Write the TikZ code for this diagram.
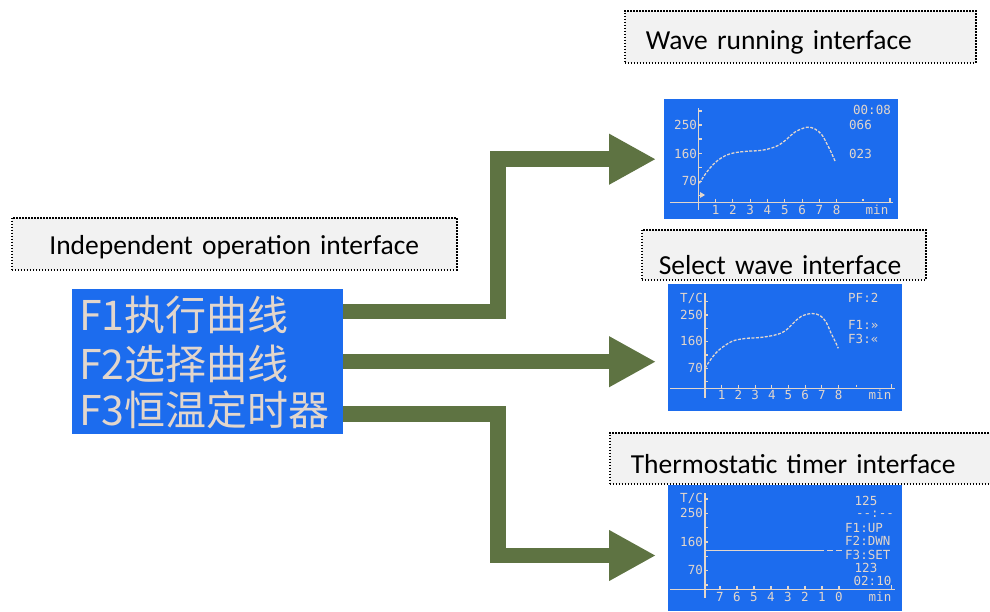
\documentclass[tikz,border=0pt]{standalone}
\usepackage{fontspec}
\usepackage{xcolor}
\usepackage{tikz}
\usetikzlibrary{arrows.meta, positioning}
\newfontfamily\calibfont{Carlito}
\newfontfamily\lcdfont{DejaVu Sans Mono}
\newfontfamily\cjk{Noto Sans CJK SC}
\definecolor{lcdblue}{RGB}{28,108,238}
\definecolor{lcdink}{RGB}{226,214,204}
\definecolor{flowgreen}{RGB}{94,115,66}
\definecolor{tagfill}{RGB}{242,242,242}

\begin{document}
\begin{tikzpicture}[x=1pt, y=-1pt,
	tag/.style={draw=black, line width=1.5pt, dash pattern=on 1.5pt off 1.5pt, fill=tagfill, anchor=north west, inner xsep=21pt, inner ysep=0pt, text depth=0pt, align=left, font=\calibfont\fontsize{27.5}{30}\selectfont},
	lcd/.style={fill=lcdblue, anchor=north west, inner sep=0pt},
	ink/.style={text=lcdink, inner sep=0pt, text height=8.5pt, text depth=0.5pt, font=\lcdfont\fontsize{12.5}{12.5}\selectfont},
	menutext/.style={text=lcdink, inner sep=0pt, anchor=west, font=\cjk\fontsize{41}{41}\selectfont},
	axis/.style={draw=lcdink, line width=1.1pt},
	wave/.style={draw=lcdink, line width=1.3pt, dash pattern=on 3pt off 1.5pt},
	flow/.style={draw=flowgreen, line width=15.5pt, -{Triangle[length=47pt, width=47.5pt]}}]
	\useasboundingbox (0,0) rectangle (990,611);
	\clip (0,0) rectangle (990,611);
	% Captions:
	\node[tag, text width=403pt, align=center, text height=21.7pt, minimum height=52pt] (tagIndep) at (11,217) {Independent operation interface};
	\node[tag, text width=309pt, text height=24.7pt, minimum height=52pt] (tagRun) at (624,10) {Wave running interface};
	\node[tag, inner xsep=17pt, text width=250pt, text height=39.7pt, minimum height=50pt] (tagSel) at (641,229) {Select wave interface};
	\node[tag, text width=344pt, text height=30.7pt, minimum height=51pt] (tagTim) at (609,432) {Thermostatic timer interface};
	% Screens:
	\node[lcd, minimum width=271pt, minimum height=145pt] (menu) at (72,289) {};
	\node[lcd, minimum width=234pt, minimum height=120pt] (scrRun) at (664,99) {};
	\node[lcd, minimum width=234pt, minimum height=127pt] (scrSel) at (668,284) {};
	\node[lcd, minimum width=234pt, minimum height=126pt] (scrTim) at (668,485) {};
	\node[menutext] (rowA) at (79,315) {F1执行曲线};
	\node[menutext] (rowB) at (79,364) {F2选择曲线};
	\node[menutext] (rowC) at (79,410) {F3恒温定时器};
	% Arrows:
	\coordinate (split) at (498,361.5);
	\coordinate (tipC) at ([yshift=-7.3pt]scrTim.west);
	\draw[flow, shorten >=8pt] ([yshift=50pt]menu.east) -| (split |- scrRun.west) -- (scrRun.west);
	\draw[flow, shorten >=12pt] (menu.east) -- (menu.east -| scrSel.west);
	\draw[flow, shorten >=12pt] ([yshift=-52.5pt]menu.east) -| (split |- tipC) -- (tipC);
	% Wave running screen:
	\draw[axis] (670,202.3) -- (893,202.3);
	\draw[axis] (698.3,108) -- (698.3,210);
	\foreach \t in {111,125,139,153.3,167.5,181.7,195.8} \draw[axis] (698.3,\t) -- (701.5,\t);
	\foreach \n in {1,...,8} {
		\draw[axis] (698.3+17.3*\n,198.5) -- (698.3+17.3*\n,202.3);
		\node[ink] (runX\n) at (698.3+17.3*\n,210.5) {\n};
	}
	\draw[axis] (863,198.5) -- (863,201);
	\draw[axis] (890,198) -- (890,203);
	\fill[lcdink] (700,192) -- (705,195) -- (700,198) -- cycle;
	\node[ink, anchor=east] (runY250) at (697,125.7) {250};
	\node[ink, anchor=east] (runY160) at (697,154.3) {160};
	\node[ink, anchor=east] (runY70) at (697,181.7) {70};
	\node[ink] (runMin) at (877,210.5) {min};
	\node[ink, anchor=east] (runTime) at (891,110) {00:08};
	\node[ink, anchor=west] (runPv) at (849,125) {066};
	\node[ink, anchor=west] (runSv) at (849,154) {023};
	\draw[wave] plot[smooth, tension=0.6] coordinates {(699.3,183.3) (704,176) (710,168) (717,161) (726.7,155) (736,152.5) (746.7,151.3) (760,150.5) (770,148.5) (779,145) (787,139) (795,132) (806.7,127.3) (815,129) (822,135) (827,144) (831,152) (835,161)};
	% Select wave screen:
	\draw[axis] (670,388.3) -- (895,388.3);
	\draw[axis] (705,293) -- (705,398);
	\foreach \t in {301.7,315,328.3,341.6,355,368.3,381.6} \draw[axis] (705,\t) -- (708.2,\t);
	\foreach \n in {1,...,8} {
		\draw[axis] (705+16.7*\n,384.5) -- (705+16.7*\n,388.3);
		\node[ink] (selX\n) at (705+16.7*\n,395.5) {\n};
	}
	\draw[axis] (856.7,384.5) -- (856.7,387);
	\draw[axis] (891.7,384) -- (891.7,389);
	\node[ink, anchor=east] (selUnit) at (703,298.3) {T/C};
	\node[ink, anchor=east] (selY250) at (703,315) {250};
	\node[ink, anchor=east] (selY160) at (703,341) {160};
	\node[ink, anchor=east] (selY70) at (703,368.3) {70};
	\node[ink] (selMin) at (880,395.5) {min};
	\node[ink, anchor=west] (selPf) at (848,298.3) {PF:2};
	\node[ink, anchor=west] (selNext) at (848,325) {F1:»};
	\node[ink, anchor=west] (selPrev) at (848,339.3) {F3:«};
	\draw[wave] plot[smooth, tension=0.6] coordinates {(705,368.3) (711,359) (719,350) (731.7,341.5) (745,338.5) (760,337.5) (775,335) (785,331) (793,323.5) (801,316.5) (811.7,313.5) (820,315.5) (826,322) (831,333) (835,341) (838.3,348.3)};
	% Thermostatic timer screen:
	\draw[axis] (670,589.3) -- (895,589.3);
	\draw[axis] (705,493) -- (705,598);
	\foreach \t in {499,513.3,527.6,542,556.3,570.7,585} \draw[axis] (705,\t) -- (708.2,\t);
	\foreach \m [count=\k from 0] in {7,6,...,0} {
		\draw[axis] (720+17*\k,585.5) -- (720+17*\k,589.3);
		\node[ink] (timX\m) at (720+17*\k,597) {\m};
	}
	\draw[axis] (891.7,585) -- (891.7,590);
	\node[ink, anchor=east] (timUnit) at (703,498.3) {T/C};
	\node[ink, anchor=east] (timY250) at (703,513.3) {250};
	\node[ink, anchor=east] (timY160) at (703,542.7) {160};
	\node[ink, anchor=east] (timY70) at (703,570.7) {70};
	\node[ink] (timMin) at (880,597) {min};
	\draw[axis] (705,550.7) -- (824,550.7);
	\draw[axis] (827,550.7) -- (833,550.7);
	\draw[axis] (836,550.7) -- (842,550.7);
	\node[ink] (timSet) at (866,501.7) {125};
	\node[ink] (timClock) at (875,513.3) {--:--};
	\node[ink, anchor=west] (timUp) at (845,528.3) {F1:UP};
	\node[ink, anchor=west] (timDown) at (845,541.7) {F2:DWN};
	\node[ink, anchor=west] (timOk) at (845,555) {F3:SET};
	\node[ink] (timPv) at (866,568.3) {123};
	\node[ink] (timLeft) at (872.5,581.7) {02:10};
\end{tikzpicture}
\end{document}
